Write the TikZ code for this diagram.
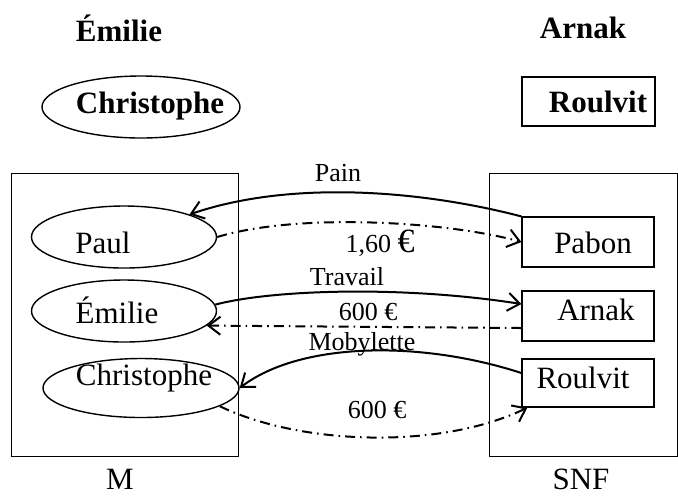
\documentclass[tikz,border=0pt]{standalone}
\usepackage{fontspec}
\setmainfont{Liberation Serif}
\usetikzlibrary{shapes.geometric,arrows.meta}

\tikzset{
    perso/.style={draw, ellipse, line width=.7pt, inner sep=0pt},
    firme/.style={draw, rectangle, line width=.6pt, inner sep=0pt},
    secteur/.style={draw, rectangle, line width=.5pt, inner sep=0pt},
    nom/.style={font=\fontsize{15.5}{18}\selectfont, inner sep=0pt},
    etiq/.style={font=\fontsize{13}{15}\selectfont, inner sep=0pt},
    flux/.style={->, line width=1pt},
    paie/.style={->, line width=1pt, dash pattern=on 5pt off 2.5pt on .8pt off 2.5pt}
}

\begin{document}
\begin{tikzpicture}[>={Straight Barb[length=6pt,width=9pt]}, x=.5pt, y=-.5pt]
\useasboundingbox (0,0) rectangle (678,495);

% en haut
\node[nom] (hemilie) at (119,28){\textbf{Émilie}};
\node[nom] (harnak) at (583,28){\textbf{Arnak}};
\node[perso, minimum width=99pt, minimum height=31pt] (hchris) at (141,107){};
\node[nom] at (150,106){\textbf{Christophe}};
\node[firme, minimum width=66.5pt, minimum height=24.5pt] (hroul) at (588.5,101.5){};
\node[nom] at (598,102){\textbf{Roulvit}};

% les deux secteurs
\node[secteur, minimum width=113.5pt, minimum height=141.5pt] (menages) at (124.5,314.5){};
\node[nom] at (120,479){M};
\node[secteur, minimum width=94pt, minimum height=141.5pt] (snf) at (583,314.5){};
\node[nom] at (581,479){SNF};

% menages
\node[perso, minimum width=92.5pt, minimum height=31pt] (paul) at (124,237){};
\node[nom] at (103,243){Paul};
\node[perso, minimum width=92.5pt, minimum height=31pt] (emilie) at (124,311){};
\node[nom] at (117,310){Émilie};
\node[perso, minimum width=98pt, minimum height=29.5pt] (chris) at (141,388){};
\node[nom] at (144,378){Christophe};

% entreprises
\node[firme, minimum width=66pt, minimum height=25pt] (pabon) at (588,242){};
\node[nom] at (593,243){Pabon};
\node[firme, minimum width=66pt, minimum height=25pt] (arnak) at (588,316){};
\node[nom] at (596,310){Arnak};
\node[firme, minimum width=66pt, minimum height=24pt] (roulvit) at (588,383){};
\node[nom] at (583,378){Roulvit};

% echanges
\draw[flux] (pabon.north west) .. controls (420,190) and (290,180) .. (paul.19);
\node[etiq] at (338,173){Pain};
\draw[paie] (paul.east) .. controls (300,212) and (450,222) .. (pabon.west);
\node[etiq] at (380,243){1,60 {\fontsize{17}{17}\selectfont €}};

\draw[flux] (emilie.4) .. controls (270,290) and (400,285) .. ([yshift=6pt]arnak.west);
\node[etiq] at (347,277){Travail};
\draw[paie] ([yshift=-6pt]arnak.west) -- (emilie.-10);
\node[etiq] at (368,312){600 €};

\draw[flux] ([yshift=5pt]roulvit.west) .. controls (420,340) and (300,342) .. (chris.east);
\node[etiq] at (362,344){Mobylette};
\draw[paie] (chris.-13) .. controls (300,445) and (440,450) .. ([xshift=3pt]roulvit.south west);
\node[etiq] at (377,410){600 €};

\end{tikzpicture}
\end{document}
